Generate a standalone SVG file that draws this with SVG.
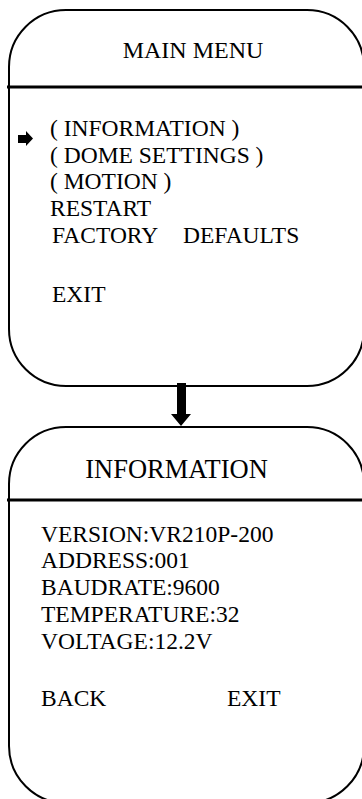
<svg xmlns="http://www.w3.org/2000/svg" width="362" height="799" viewBox="0 0 362 799">
<defs>
<style>
.box{fill:#fff;stroke:#000;stroke-width:2}
.div{stroke:#000;stroke-width:3}
</style>
</defs>
<rect width="362" height="799" fill="#fff"/>
<g id="main-menu">
<rect class="box" x="9" y="10" width="355" height="376" rx="57" ry="57"/>
<line class="div" x1="7" y1="87" x2="364" y2="87"/>
<text x="193" y="58" style="font-family:'Liberation Serif',serif !important;font-size:24px" text-anchor="middle">MAIN MENU</text>
<polygon points="18,135 26,135 26,131 33,138.5 26,146 26,143 18,143" fill="#000"/>
<text x="50" y="136" style="font-family:'Liberation Serif',serif !important;font-size:23.5px">( INFORMATION )</text>
<text x="50" y="163" style="font-family:'Liberation Serif',serif !important;font-size:23.5px">( DOME SETTINGS )</text>
<text x="50" y="189" style="font-family:'Liberation Serif',serif !important;font-size:23.5px">( MOTION )</text>
<text x="50" y="216" style="font-family:'Liberation Serif',serif !important;font-size:23.5px">RESTART</text>
<text x="52" y="243" style="font-family:'Liberation Serif',serif !important;font-size:23.5px">FACTORY <tspan x="183">DEFAULTS</tspan></text>
<text x="52" y="302" style="font-family:'Liberation Serif',serif !important;font-size:23.5px">EXIT</text>
</g>
<g id="connectors">
<polygon points="177,383 186,383 186,414 191,414 181,426 171,414 177,414" fill="#000"/>
</g>
<g id="information">
<rect class="box" x="9" y="427" width="355" height="376" rx="57" ry="57"/>
<line class="div" x1="7" y1="500" x2="364" y2="500"/>
<text x="176.5" y="478" style="font-family:'Liberation Serif',serif !important;font-size:26.5px" text-anchor="middle">INFORMATION</text>
<text x="41" y="542" style="font-family:'Liberation Serif',serif !important;font-size:23.5px">VERSION:VR210P-200</text>
<text x="41" y="568" style="font-family:'Liberation Serif',serif !important;font-size:23.5px">ADDRESS:001</text>
<text x="41" y="595" style="font-family:'Liberation Serif',serif !important;font-size:23.5px">BAUDRATE:9600</text>
<text x="41" y="622" style="font-family:'Liberation Serif',serif !important;font-size:23.5px">TEMPERATURE:32</text>
<text x="41" y="649" style="font-family:'Liberation Serif',serif !important;font-size:23.5px">VOLTAGE:12.2V</text>
<text x="41" y="706" style="font-family:'Liberation Serif',serif !important;font-size:23.5px">BACK</text>
<text x="227" y="706" style="font-family:'Liberation Serif',serif !important;font-size:23.5px">EXIT</text>
</g>
</svg>
